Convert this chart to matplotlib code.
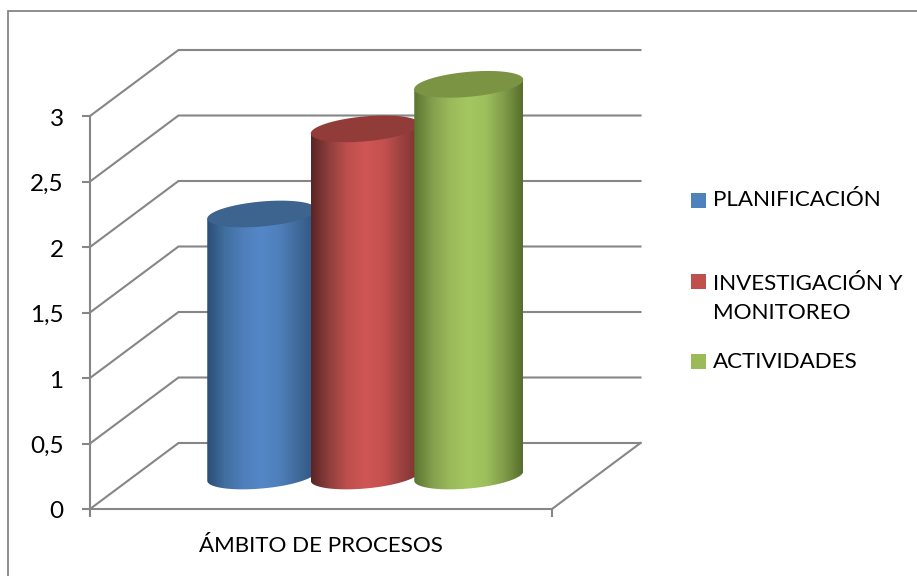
import numpy as np
import matplotlib
matplotlib.use("Agg")
import matplotlib.pyplot as plt
from matplotlib.colors import LinearSegmentedColormap
from matplotlib.patches import PathPatch, Rectangle
from matplotlib.path import Path

category = "ÁMBITO DE PROCESOS"
series_names = ["PLANIFICACIÓN", "INVESTIGACIÓN Y\nMONITOREO", "ACTIVIDADES"]
series_values = [2.0, 2.65, 2.99]
y_ticks = [0, 0.5, 1, 1.5, 2, 2.5, 3]
y_labels = ["0", "0,5", "1", "1,5", "2", "2,5", "3"]
legend_colors = ["#4f81bd", "#c0504d", "#9bbb59"]
body_stops = [
    ["#2a4d78", "#416f9f", "#4f7fbb", "#5487c8", "#4f7fbb", "#406a9c", "#2f5480"],
    ["#5a2524", "#8f3f3d", "#bd4f4d", "#cf5654", "#c5514f", "#9b4240", "#7a302f"],
    ["#5a7530", "#839f4e", "#9aba5b", "#a5c761", "#9dbe5c", "#7f9b48", "#566e2c"],
]
top_colors = ["#3d638f", "#923c3a", "#7b9444"]
GRAY = "#868686"
FONT = "Lato"

W, H = 917, 576
fig = plt.figure(figsize=(W / 100, H / 100), dpi=100, facecolor="white")
ax = fig.add_axes([90 / W, (H - 509) / H, 462 / W, 393 / H])
ax.patch.set_visible(False)

px_x, px_y = 1 / 462, 3 / 393
dx, dy = 88.5 * px_x, 66 * px_y

# outer frame (runs off the right and bottom of the picture)
fig.add_artist(Rectangle((8 / W, -0.1), 1.1, (H - 11) / H + 0.1,
                         transform=fig.transFigure, fill=False, ec=GRAY, lw=1.3))

# walls and floor
for v in y_ticks:
    ax.plot([0, dx, 1 + dx], [v, v + dy, v + dy], color=GRAY, lw=1.5,
            clip_on=False, zorder=1, solid_joinstyle="miter")
ax.plot([1, 1 + dx], [0, dy], color=GRAY, lw=1.5, clip_on=False, zorder=1)

# axes
for s in ("top", "right"):
    ax.spines[s].set_visible(False)
for s in ("left", "bottom"):
    ax.spines[s].set_color(GRAY)
    ax.spines[s].set_linewidth(1.5)
ax.set_yticks(y_ticks, y_labels, fontsize=17.5, family=FONT, color="black")
ax.set_xticks([0, 1], ["", ""])
ax.tick_params(axis="y", length=6, width=1.5, color=GRAY, pad=13)
ax.tick_params(axis="x", length=5.5, width=1.5, color=GRAY)
for lab in ax.get_yticklabels():
    lab.set_transform(lab.get_transform() + matplotlib.transforms.ScaledTranslation(0, -1 / 100, fig.dpi_scale_trans))

# cylinders
a = 54.5 * px_x
b = 12.5 * px_y
tilt = 4.7 * px_y
bar_step = 103.5 * px_x
t = np.linspace(0, 2 * np.pi, 181)
lower = np.linspace(np.pi, 2 * np.pi, 90)
for i, val in enumerate(series_values):
    cx = 0.5 + dx / 2 + (i - 1) * bar_step
    cy0 = dy / 2
    x_bot = cx + a * np.cos(lower)
    y_bot = cy0 + tilt * np.cos(lower) + b * np.sin(lower)
    verts = np.vstack([
        [(cx - a, val + cy0 - tilt)],
        np.column_stack([x_bot, y_bot]),
        [(cx + a, val + cy0 + tilt)],
        [(cx - a, val + cy0 - tilt)],
    ])
    body = PathPatch(Path(verts), transform=ax.transData, fc="none", ec="none")
    ax.add_patch(body)
    cmap = LinearSegmentedColormap.from_list(f"c{i}", body_stops[i])
    im = ax.imshow(np.linspace(0, 1, 256)[None, :], cmap=cmap, aspect="auto",
                   extent=(cx - a, cx + a, -0.2, val + 1), zorder=3 + i * 2,
                   interpolation="bilinear")
    im.set_clip_path(body)
    im.set_clip_box(fig.bbox)
    ax.fill(cx + a * np.cos(t), val + cy0 + tilt * np.cos(t) + b * np.sin(t),
            color=top_colors[i], lw=0, zorder=4 + i * 2, clip_on=False)
ax.set_xlim(0, 1)
ax.set_ylim(0, 3)

# category label
fig.text(321 / W, (H - 546) / H, category, ha="center", va="center",
         fontsize=16.1, family=FONT, color="black")

# legend
legend_y = [200.5, 281.5, 361.5]
text_y = [200.5, 298.5, 362.5]
for name, col, yy, ty in zip(series_names, legend_colors, legend_y, text_y):
    fig.add_artist(Rectangle((691 / W, (H - yy - 7.5) / H), 15 / W, 15 / H,
                             transform=fig.transFigure, fc=col, ec="none"))
    fig.text(713 / W, (H - ty) / H, name, ha="left", va="center", fontsize=16.1,
             family=FONT, color="black", linespacing=1.55)

fig.savefig("out.png", dpi=100)
